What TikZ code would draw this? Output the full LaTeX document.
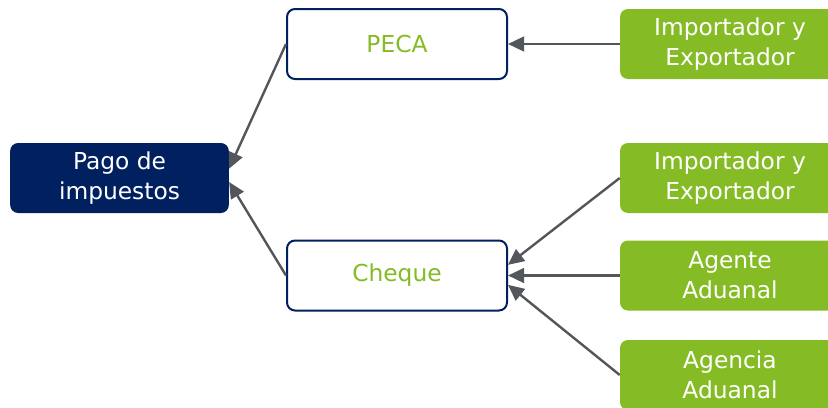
\documentclass[tikz,border=0pt]{standalone}
\usepackage{fontspec}
\setmainfont{DejaVu Sans}
\usetikzlibrary{arrows.meta}
\definecolor{navy}{RGB}{0,32,96}
\definecolor{leaf}{RGB}{133,188,38}
\definecolor{arrowgrey}{RGB}{83,86,90}
\tikzset{
  base/.style={rounded corners=6pt, minimum width=165pt, minimum height=52.5pt,
    align=center, inner sep=0pt, font=\fontsize{17.5}{22.5}\selectfont},
  mainbox/.style={base, fill=navy, text=white, minimum width=164pt},
  waybox/.style={base, draw=navy, line width=1.5pt, fill=white, text=leaf},
  whobox/.style={base, fill=leaf, text=white},
  feed/.style={draw=arrowgrey, line width=1.8pt, -{Triangle[length=12pt,width=11pt]}}
}
\begin{document}
\begin{tikzpicture}[x=0.75pt,y=-0.75pt]
\clip (0,0) rectangle (828,407);

% Payment
\node[mainbox] (pago) at (119.5,178) {Pago de\\impuestos};

% Ways to pay
\node[waybox] (peca) at (397,44) {PECA};
\node[waybox] (cheque) at (397,275.5) {Cheque};

% Who pays
\node[whobox] (imp1) at (730,44) {Importador y\\Exportador};
\node[whobox] (imp2) at (730,178) {Importador y\\Exportador};
\node[whobox] (agente) at (730,275.5) {Agente\\Aduanal};
\node[whobox] (agencia) at (730,375) {Agencia\\Aduanal};

% Arrows
\draw[feed] (imp1.west) -- (peca.east);
\draw[feed] (peca.west) -- ([yshift=7pt]pago.east);
\draw[feed] (cheque.west) -- ([yshift=-3pt]pago.east);
\draw[feed] (imp2.west) -- ([yshift=8pt]cheque.east);
\draw[feed] (agente.west) -- (cheque.east);
\draw[feed] (agencia.west) -- ([yshift=-7pt]cheque.east);
\end{tikzpicture}
\end{document}
